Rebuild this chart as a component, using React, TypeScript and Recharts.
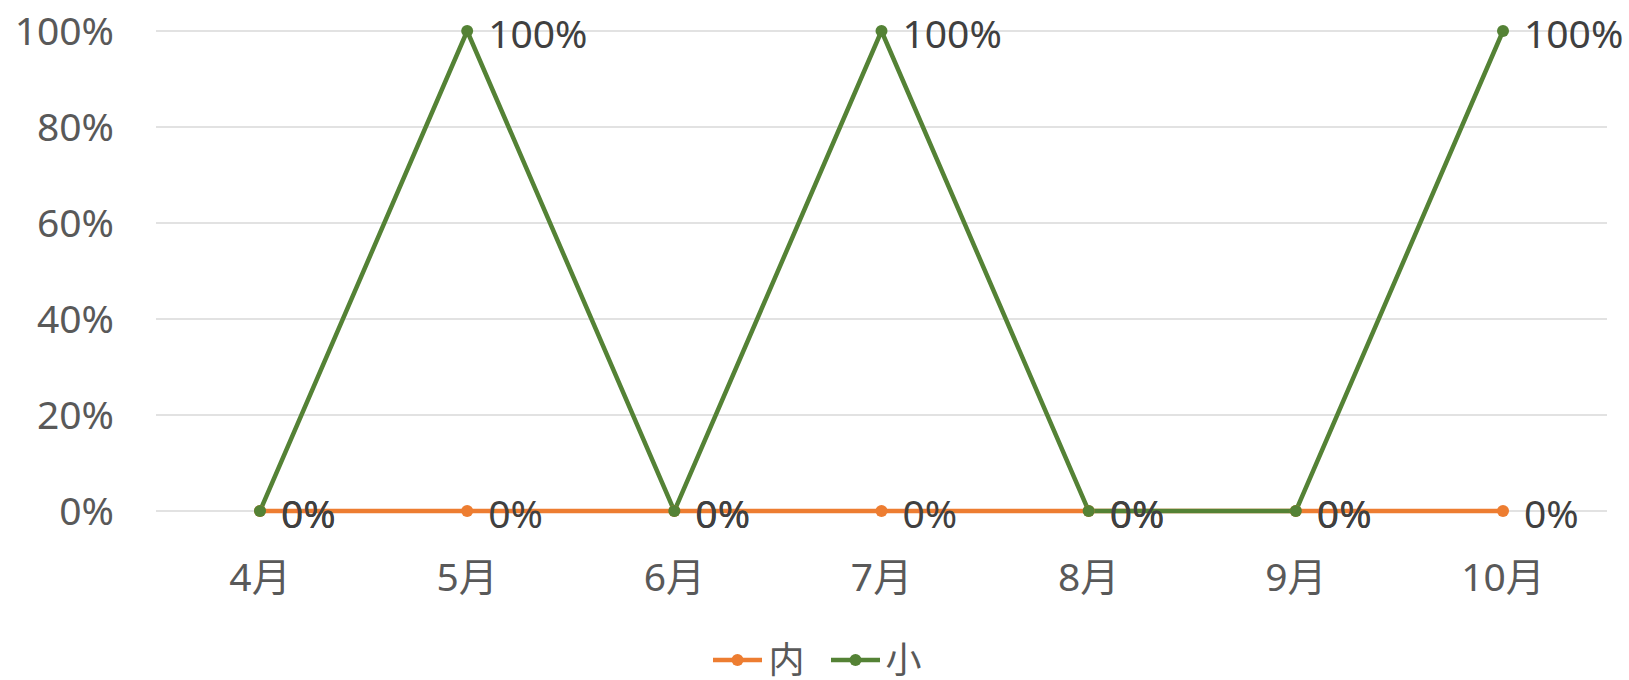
import { LineChart, Line, XAxis, YAxis, CartesianGrid, Legend, LabelList } from 'recharts'

const months = ['4月', '5月', '6月', '7月', '8月', '9月', '10月']
const naiValues = [0, 0, 0, 0, 0, 0, 0]
const xiaoValues = [0, 1, 0, 1, 0, 0, 1]
const yTicks = [0, 0.2, 0.4, 0.6, 0.8, 1]

const data = months.map((m, i) => ({ month: m, nai: naiValues[i], xiao: xiaoValues[i] }))

const FONT = '"Noto Sans", "Noto Sans CJK SC", sans-serif'
const ORANGE = '#ED7D31'
const GREEN = '#548235'

const pct = (v: number) => `${Math.round(v * 100)}%`

const YTick = (props: any) => {
  const { x, y, payload } = props
  return (
    <text x={x} y={y} dy="0.35em" textAnchor="end" fill="#595959" fontSize={39} fontFamily={FONT}>
      {pct(payload.value)}
    </text>
  )
}

const XTick = (props: any) => {
  const { x, y, payload } = props
  return (
    <text x={x} y={y + 58} dy="0.35em" textAnchor="middle" fill="#595959" fontSize={39} fontFamily={FONT}>
      {payload.value}
    </text>
  )
}

const PointLabel = (props: any) => {
  const { x, y, value } = props
  return (
    <text x={x + 21} y={y + 3} dy="0.35em" textAnchor="start" fill="#404040" fontSize={39} fontFamily={FONT}>
      {pct(value)}
    </text>
  )
}

const legendItems = [
  { name: '内', color: ORANGE },
  { name: '小', color: GREEN },
]

const LegendContent = () => (
  <div style={{ display: 'flex', justifyContent: 'center', alignItems: 'center', gap: 26, paddingLeft: 28, fontFamily: FONT, fontSize: 36, color: '#595959', height: 40, lineHeight: '40px' }}>
    {legendItems.map((it) => (
      <div key={it.name} style={{ display: 'flex', alignItems: 'center', gap: 6 }}>
        <svg width={49} height={14}>
          <line x1={0} y1={7} x2={49} y2={7} stroke={it.color} strokeWidth={4.5} />
          <circle cx={24.5} cy={7} r={6} fill={it.color} />
        </svg>
        <span>{it.name}</span>
      </div>
    ))}
  </div>
)

export default function App() {
  return (
    <div style={{ position: 'absolute', left: 0, top: 0, background: '#fff' }}>
      <LineChart width={1629} height={680} data={data} margin={{ top: 31, right: 22, left: 0, bottom: 0 }}>
        <CartesianGrid vertical={false} stroke="#D9D9D9" strokeWidth={1.5} />
        <XAxis
          dataKey="month"
          axisLine={false}
          tickLine={false}
          height={129}
          tick={<XTick />}
          interval={0}
          padding={{ left: 104, right: 104 }}
        />
        <YAxis
          domain={[0, 1]}
          ticks={yTicks}
          axisLine={false}
          tickLine={false}
          width={156}
          tickMargin={0}
          tickSize={42}
          tick={<YTick />}
        />
        <Legend verticalAlign="bottom" height={40} content={<LegendContent />} />
        <Line
          dataKey="nai"
          name="内"
          stroke={ORANGE}
          strokeWidth={4.5}
          dot={{ r: 6, fill: ORANGE, stroke: 'none' }}
          activeDot={false}
          isAnimationActive={false}
        >
          <LabelList dataKey="nai" content={<PointLabel />} />
        </Line>
        <Line
          dataKey="xiao"
          name="小"
          stroke={GREEN}
          strokeWidth={4.5}
          dot={{ r: 6, fill: GREEN, stroke: 'none' }}
          activeDot={false}
          isAnimationActive={false}
        >
          <LabelList dataKey="xiao" content={<PointLabel />} />
        </Line>
      </LineChart>
    </div>
  )
}
